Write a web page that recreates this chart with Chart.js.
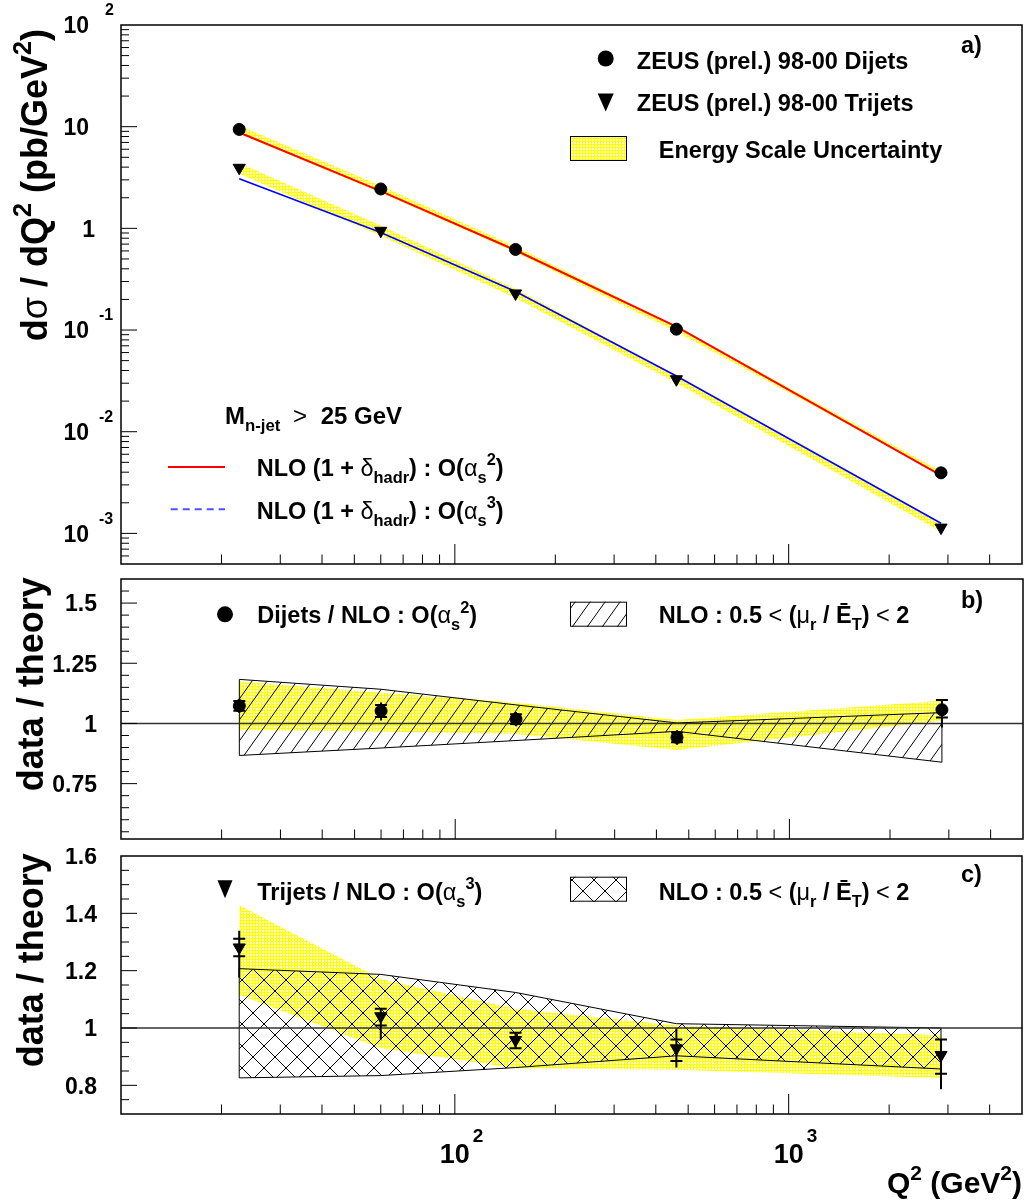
<!DOCTYPE html>
<html>
<head>
<meta charset="utf-8">
<script src="https://cdn.jsdelivr.net/npm/chart.js"></script>
<style>
  html, body { margin: 0; padding: 0; background: #fff; }
  #wrap { position: relative; width: 1030px; height: 1204px; }
  canvas { position: absolute; left: 0; }
</style>
</head>
<body>
<div id="wrap">
  <canvas id="panelA" width="1030" height="572" style="top:0px"></canvas>
  <canvas id="panelB" width="1030" height="276" style="top:572px"></canvas>
  <canvas id="panelC" width="1030" height="356" style="top:848px"></canvas>
</div>
<script>
// Q^2 bin centres (GeV^2)
const q2 = [22.6, 60, 152, 461, 2860];

// a) d(sigma)/dQ^2 in pb/GeV^2
const dijetXsec   = [9.4, 2.44, 0.62, 0.102, 0.00394];
const trijetXsec  = [3.94, 0.946, 0.229, 0.0328, 0.00114];
const nloDijet    = [8.76, 2.32, 0.609, 0.108, 0.00373];
const nloTrijet   = [3.08, 0.909, 0.239, 0.0353, 0.00126];
const dijetEsLow   = [8.52, 2.24, 0.582, 0.0961, 0.00377];
const dijetEsHigh  = [10.28, 2.62, 0.662, 0.1095, 0.00408];
const trijetEsLow  = [3.44, 0.845, 0.206, 0.0301, 0.00104];
const trijetEsHigh = [4.40, 1.064, 0.255, 0.0356, 0.00123];

// b) dijets / NLO O(as^2)
const dijetRatio      = [1.073, 1.052, 1.018, 0.942, 1.057];
const dijetStatUp     = [0.02, 0.025, 0.02, 0.02, 0.04];
const dijetStatDn     = [0.02, 0.025, 0.02, 0.02, 0.032];
const dijetTotUp      = [0.03, 0.035, 0.03, 0.03, 0.04];
const dijetTotDn      = [0.03, 0.04, 0.03, 0.03, 0.074];
const dijetEsRatioLow  = [0.973, 0.967, 0.956, 0.89, 1.011];
const dijetEsRatioHigh = [1.174, 1.128, 1.087, 1.014, 1.094];
const dijetScaleLow    = [0.867, 0.898, 0.929, 0.967, 0.839];
const dijetScaleHigh   = [1.183, 1.142, 1.077, 1.002, 1.045];

// c) trijets / NLO O(as^3)
const trijetRatio      = [1.281, 1.041, 0.958, 0.929, 0.906];
const trijetStatUp     = [0.03, 0.026, 0.025, 0.031, 0.054];
const trijetStatDn     = [0.031, 0.032, 0.029, 0.044, 0.066];
const trijetTotUp      = [0.058, 0.026, 0.025, 0.069, 0.054];
const trijetTotDn      = [0.105, 0.081, 0.03, 0.067, 0.12];
const trijetEsRatioLow  = [1.116, 0.929, 0.86, 0.854, 0.826];
const trijetEsRatioHigh = [1.428, 1.171, 1.067, 1.009, 0.975];
const trijetScaleLow    = [0.826, 0.834, 0.862, 0.903, 0.857];
const trijetScaleHigh   = [1.207, 1.187, 1.124, 1.015, 1.0];

// axis ticks and labels
const xMajor = [100, 1000];
const xMinor = [20, 30, 40, 50, 60, 70, 80, 90, 200, 300, 400, 500, 600, 700, 800, 900, 2000, 3000, 4000];
const xLabelVals = [100, 1000];
const xLabelText = [['10', '2'], ['10', '3']];

const yMajorA = [0.001, 0.01, 0.1, 1, 10];
const yMinorA = [0.0006, 0.0007, 0.0008, 0.0009,
  0.002, 0.003, 0.004, 0.005, 0.006, 0.007, 0.008, 0.009,
  0.02, 0.03, 0.04, 0.05, 0.06, 0.07, 0.08, 0.09,
  0.2, 0.3, 0.4, 0.5, 0.6, 0.7, 0.8, 0.9,
  2, 3, 4, 5, 6, 7, 8, 9,
  20, 30, 40, 50, 60, 70, 80, 90];
const yLabelValsA = [100, 10, 1, 0.1, 0.01, 0.001];
const yLabelTextA = [['10', '2'], ['10', ''], ['1', ''], ['10', '-1'], ['10', '-2'], ['10', '-3']];

const yMajorB = [0.75, 1, 1.25, 1.5];
const yMinorB = [0.55, 0.6, 0.65, 0.7, 0.8, 0.85, 0.9, 0.95, 1.05, 1.1, 1.15, 1.2, 1.3, 1.35, 1.4, 1.45, 1.55];
const yLabelValsB = [0.75, 1, 1.25, 1.5];
const yLabelTextB = [['0.75', ''], ['1', ''], ['1.25', ''], ['1.5', '']];

const yMajorC = [0.8, 1, 1.2, 1.4];
const yMinorC = [0.75, 0.85, 0.9, 0.95, 1.05, 1.1, 1.15, 1.25, 1.3, 1.35, 1.45, 1.5, 1.55];
const yLabelValsC = [0.8, 1, 1.2, 1.4, 1.6];
const yLabelTextC = [['0.8', ''], ['1', ''], ['1.2', ''], ['1.4', ''], ['1.6', '']];

const FONT = '"Liberation Sans", Arial, Helvetica, sans-serif';
const TXT = 23.5;

// ---- fill patterns ----
function meshPattern() {
  // yellow grid lines over pale cells
  const c = document.createElement('canvas');
  c.width = 3; c.height = 3;
  const g = c.getContext('2d');
  g.fillStyle = '#ffffc4'; g.fillRect(0, 0, 3, 3);
  g.fillStyle = '#ffff00'; g.fillRect(0, 0, 3, 1); g.fillRect(0, 0, 1, 3);
  return g.createPattern(c, 'repeat');
}
function hatchPattern() {
  const c = document.createElement('canvas');
  c.width = 15; c.height = 21;
  const g = c.getContext('2d');
  g.strokeStyle = '#000'; g.lineWidth = 1;
  [-15, 0, 15].forEach(o => { g.beginPath(); g.moveTo(o, 21); g.lineTo(o + 15, 0); g.stroke(); });
  return g.createPattern(c, 'repeat');
}
function crossPattern() {
  const c = document.createElement('canvas');
  c.width = 22; c.height = 22;
  const g = c.getContext('2d');
  g.strokeStyle = '#000'; g.lineWidth = 1;
  [-22, 0, 22].forEach(o => {
    g.beginPath(); g.moveTo(o, 22); g.lineTo(o + 22, 0); g.stroke();
    g.beginPath(); g.moveTo(o, 0); g.lineTo(o + 22, 22); g.stroke();
  });
  return g.createPattern(c, 'repeat');
}
const mesh = meshPattern();
const hatch = hatchPattern();
const cross = crossPattern();

// ---- text helpers (bold Helvetica-like, greek in regular weight) ----
function segFont(ctx, s, size) {
  const sz = (s.sub || s.sup) ? size * 0.7 : size;
  ctx.font = (s.g ? '' : 'bold ') + sz.toFixed(1) + 'px ' + FONT;
}
function richWidth(ctx, segs, size) {
  let w = 0;
  segs.forEach(s => { segFont(ctx, s, size); w += ctx.measureText(s.t).width; });
  return w;
}
function drawRich(ctx, segs, x, y, size) {
  ctx.textAlign = 'left';
  ctx.textBaseline = 'alphabetic';
  segs.forEach(s => {
    segFont(ctx, s, size);
    const dy = s.sub ? size * 0.3 : (s.sup ? -size * 0.45 : 0);
    ctx.fillText(s.t, x, y + dy);
    x += ctx.measureText(s.t).width;
  });
  return x;
}
function drawRichUp(ctx, segs, x, yTop, size) {
  const w = richWidth(ctx, segs, size);
  ctx.save();
  ctx.translate(x, yTop);
  ctx.rotate(-Math.PI / 2);
  drawRich(ctx, segs, -w, 0, size);
  ctx.restore();
}
function dot(ctx, x, y, r) {
  ctx.beginPath(); ctx.arc(x, y, r, 0, 2 * Math.PI); ctx.fill();
}
function downTri(ctx, x, y, hw, h) {
  ctx.beginPath();
  ctx.moveTo(x - hw, y - h / 2); ctx.lineTo(x + hw, y - h / 2); ctx.lineTo(x, y + h / 2);
  ctx.closePath(); ctx.fill();
}

const nloLabel = p => [{ t: 'NLO (1 + ' }, { t: 'δ', g: 1 }, { t: 'hadr', sub: 1 }, { t: ') : O(' },
  { t: 'α', g: 1 }, { t: 's', sub: 1 }, { t: p, sup: 1 }, { t: ')' }];
const scaleLabel = [{ t: 'NLO : 0.5 ' }, { t: '<', g: 1 }, { t: ' (' }, { t: 'μ', g: 1 }, { t: 'r', sub: 1 },
  { t: ' / Ē' }, { t: 'T', sub: 1 }, { t: ') ' }, { t: '<', g: 1 }, { t: ' 2' }];
const ratioTitle = [{ t: 'data / theory' }];

// ---- frame, inward ticks, labels, error bars, band ends ----
function rootPad(cfg) {
  return {
    id: 'rootPad',
    afterDatasetDraw(chart, args) {
      const ds = chart.data.datasets[args.index];
      if (!ds.edgeLow) return;
      const { ctx } = chart;
      const xs = chart.scales.x, ys = chart.scales.y;
      ctx.save();
      ctx.strokeStyle = '#000'; ctx.lineWidth = 1;
      [0, ds.data.length - 1].forEach(i => {
        const px = xs.getPixelForValue(ds.data[i].x);
        ctx.beginPath();
        ctx.moveTo(px, ys.getPixelForValue(ds.data[i].y));
        ctx.lineTo(px, ys.getPixelForValue(ds.edgeLow[i]));
        ctx.stroke();
      });
      ctx.restore();
    },
    afterDatasetsDraw(chart) {
      const e = cfg.errors;
      if (!e) return;
      const { ctx } = chart;
      const xs = chart.scales.x, ys = chart.scales.y;
      ctx.save();
      ctx.strokeStyle = '#000'; ctx.lineWidth = 2;
      q2.forEach((q, i) => {
        const px = xs.getPixelForValue(q);
        const v = e.val[i];
        ctx.beginPath();
        ctx.moveTo(px, ys.getPixelForValue(v + e.totUp[i]));
        ctx.lineTo(px, ys.getPixelForValue(v - e.totDn[i]));
        [v + e.statUp[i], v - e.statDn[i]].forEach(t => {
          const py = ys.getPixelForValue(t);
          ctx.moveTo(px - 6, py); ctx.lineTo(px + 6, py);
        });
        ctx.stroke();
      });
      ctx.restore();
    },
    afterDraw(chart) {
      const { ctx, chartArea: a } = chart;
      const xs = chart.scales.x, ys = chart.scales.y;
      ctx.save();
      ctx.strokeStyle = '#000'; ctx.fillStyle = '#000'; ctx.lineWidth = 1;
      const seg = (x1, y1, x2, y2) => { ctx.beginPath(); ctx.moveTo(x1, y1); ctx.lineTo(x2, y2); ctx.stroke(); };
      cfg.yMajor.forEach(v => { const p = ys.getPixelForValue(v); seg(a.left, p, a.left + 16, p); });
      cfg.yMinor.forEach(v => { const p = ys.getPixelForValue(v); seg(a.left, p, a.left + 8, p); });
      xMajor.forEach(v => { const p = xs.getPixelForValue(v); seg(p, a.bottom, p, a.bottom - 20); });
      xMinor.forEach(v => { const p = xs.getPixelForValue(v); seg(p, a.bottom, p, a.bottom - 9.5); });
      ctx.lineWidth = 1.5;
      ctx.strokeRect(a.left, a.top, a.right - a.left, a.bottom - a.top);

      // y tick labels, mantissa centred on the tick, exponent raised
      cfg.yLabelVals.forEach((v, i) => {
        const [m, ex] = cfg.yLabelText[i];
        const py = ys.getPixelForValue(v);
        const base = py + 0.36 * 23;
        const right = cfg.labelRight + (m === '1' && cfg.loneShift ? cfg.loneShift : 0);
        ctx.font = 'bold 23px ' + FONT;
        ctx.textAlign = 'right';
        ctx.textBaseline = 'alphabetic';
        ctx.fillText(m, right, base);
        if (ex) {
          ctx.font = 'bold 16px ' + FONT;
          ctx.textAlign = 'left';
          ctx.fillText(ex, right + (ex[0] === '-' ? 10 : 16), base - 18);
        }
      });

      if (cfg.xLabels) {
        xLabelVals.forEach((v, i) => {
          const [m, ex] = xLabelText[i];
          const px = xs.getPixelForValue(v);
          ctx.font = 'bold 27px ' + FONT;
          ctx.textAlign = 'center';
          ctx.textBaseline = 'alphabetic';
          ctx.fillText(m, px, a.bottom + 48.5);
          const w = ctx.measureText(m).width;
          ctx.font = 'bold 19px ' + FONT;
          ctx.textAlign = 'left';
          ctx.fillText(ex, px + w / 2 + 3, a.bottom + 27.5);
        });
        const title = [{ t: 'Q' }, { t: '2', sup: 1 }, { t: ' (GeV' }, { t: '2', sup: 1 }, { t: ')' }];
        const w = richWidth(ctx, title, 30);
        drawRich(ctx, title, a.right - w, a.bottom + 79, 30);
      }

      ctx.translate(0, -cfg.top);
      cfg.decorate(ctx);
      ctx.restore();
    }
  };
}

// ---- dataset helpers ----
const pts = ys => q2.map((x, i) => ({ x, y: ys[i] }));
const clear = 'rgba(0,0,0,0)';
function bandPair(hi, lo, bg, order, outlined) {
  const edge = outlined ? '#000' : clear;
  return [
    { data: pts(hi), fill: '+1', backgroundColor: bg, borderColor: edge, borderWidth: 1,
      pointRadius: 0, order, edgeLow: outlined ? lo : null },
    { data: pts(lo), fill: false, borderColor: edge, borderWidth: 1, pointRadius: 0, order }
  ];
}
function markers(ys, style, r) {
  return { data: pts(ys), showLine: false, pointStyle: style, pointRadius: r,
    pointRotation: style === 'triangle' ? 180 : 0,
    pointBackgroundColor: '#000', pointBorderColor: '#000', pointBorderWidth: 1, order: 0 };
}
const unity = { data: [{ x: 10, y: 1 }, { x: 5000, y: 1 }], borderColor: '#333', borderWidth: 1.5,
  pointRadius: 0, fill: false, order: 2 };

function padOptions(padding, yType, yMin, yMax) {
  return {
    responsive: false, animation: false, events: [],
    layout: { padding },
    elements: { line: { tension: 0 } },
    scales: {
      x: { type: 'logarithmic', min: 10, max: 5000, display: false },
      y: { type: yType, min: yMin, max: yMax, display: false }
    },
    plugins: { legend: { display: false }, tooltip: { enabled: false } }
  };
}

// ---- a) cross sections ----
new Chart(document.getElementById('panelA'), {
  type: 'line',
  data: {
    datasets: [
      ...bandPair(dijetEsHigh, dijetEsLow, mesh, 5, false),
      ...bandPair(trijetEsHigh, trijetEsLow, mesh, 5, false),
      { data: pts(nloDijet), borderColor: '#ff0000', borderWidth: 2, pointRadius: 0, fill: false, order: 1 },
      { data: pts(nloTrijet), borderColor: '#0000ff', borderWidth: 1.6, pointRadius: 0, fill: false, order: 1 },
      markers(dijetXsec, 'circle', 6),
      markers(trijetXsec, 'triangle', 7)
    ]
  },
  options: padOptions({ left: 121, right: 2, top: 25, bottom: 7 }, 'logarithmic', 5e-4, 100),
  plugins: [rootPad({
    top: 0, yMajor: yMajorA, yMinor: yMinorA,
    yLabelVals: yLabelValsA, yLabelText: yLabelTextA, labelRight: 89, loneShift: 6,
    decorate(ctx) {
      ctx.fillStyle = '#000';
      dot(ctx, 605.7, 58.5, 8);
      drawRich(ctx, [{ t: 'ZEUS (prel.) 98-00 Dijets' }], 636.8, 69, TXT);
      downTri(ctx, 605.7, 102.5, 8, 18);
      drawRich(ctx, [{ t: 'ZEUS (prel.) 98-00 Trijets' }], 636.8, 111, TXT);
      ctx.fillStyle = mesh;
      ctx.fillRect(570, 136, 57, 25);
      ctx.strokeStyle = '#000'; ctx.lineWidth = 1;
      ctx.strokeRect(570.5, 136.5, 56, 24);
      ctx.fillStyle = '#000';
      drawRich(ctx, [{ t: 'Energy Scale Uncertainty' }], 658.8, 157.5, TXT);
      drawRich(ctx, [{ t: 'a)' }], 961, 53, TXT);

      drawRich(ctx, [{ t: 'M' }, { t: 'n-jet', sub: 1 }], 225, 424, 24);
      drawRich(ctx, [{ t: '>', g: 1 }], 293, 424, 24);
      drawRich(ctx, [{ t: '25 GeV' }], 320.7, 424, 24);

      ctx.strokeStyle = '#ff0000'; ctx.lineWidth = 2;
      ctx.beginPath(); ctx.moveTo(168, 467); ctx.lineTo(225, 467); ctx.stroke();
      drawRich(ctx, nloLabel('2'), 256.7, 475.7, TXT);
      ctx.strokeStyle = '#5050ff'; ctx.setLineDash([7, 5]);
      ctx.beginPath(); ctx.moveTo(170.7, 509.3); ctx.lineTo(225, 509.3); ctx.stroke();
      ctx.setLineDash([]);
      drawRich(ctx, nloLabel('3'), 256.7, 519, TXT);

      drawRichUp(ctx, [{ t: 'd' }, { t: 'σ', g: 1 }, { t: ' / dQ' }, { t: '2', sup: 1 },
        { t: ' (pb/GeV' }, { t: '2', sup: 1 }, { t: ')' }], 47, 29, 36);
    }
  })]
});

// ---- b) dijets / theory ----
new Chart(document.getElementById('panelB'), {
  type: 'line',
  data: {
    datasets: [
      ...bandPair(dijetEsRatioHigh, dijetEsRatioLow, mesh, 5, false),
      ...bandPair(dijetScaleHigh, dijetScaleLow, hatch, 4, true),
      unity,
      markers(dijetRatio, 'circle', 6)
    ]
  },
  options: padOptions({ left: 121, right: 2, top: 5, bottom: 9 }, 'linear', 0.52, 1.6),
  plugins: [rootPad({
    top: 572, yMajor: yMajorB, yMinor: yMinorB,
    yLabelVals: yLabelValsB, yLabelText: yLabelTextB, labelRight: 97,
    errors: { val: dijetRatio, statUp: dijetStatUp, statDn: dijetStatDn, totUp: dijetTotUp, totDn: dijetTotDn },
    decorate(ctx) {
      ctx.fillStyle = '#000';
      dot(ctx, 225, 614.3, 8);
      drawRich(ctx, [{ t: 'Dijets / NLO : O(' }, { t: 'α', g: 1 }, { t: 's', sub: 1 }, { t: '2', sup: 1 }, { t: ')' }],
        257.3, 623.3, TXT);
      ctx.fillStyle = hatch;
      ctx.fillRect(570, 601.7, 57, 25);
      ctx.strokeStyle = '#000'; ctx.lineWidth = 1;
      ctx.strokeRect(570.5, 602.2, 56, 24);
      ctx.fillStyle = '#000';
      drawRich(ctx, scaleLabel, 658.8, 623.3, TXT);
      drawRich(ctx, [{ t: 'b)' }], 961, 608.3, TXT);
      drawRichUp(ctx, ratioTitle, 43.3, 577.3, 36);
    }
  })]
});

// ---- c) trijets / theory ----
new Chart(document.getElementById('panelC'), {
  type: 'line',
  data: {
    datasets: [
      ...bandPair(trijetEsRatioHigh, trijetEsRatioLow, mesh, 5, false),
      ...bandPair(trijetScaleHigh, trijetScaleLow, cross, 4, true),
      unity,
      markers(trijetRatio, 'triangle', 7)
    ]
  },
  options: padOptions({ left: 121, right: 2, top: 5, bottom: 90 }, 'linear', 0.7, 1.6),
  plugins: [rootPad({
    top: 848, yMajor: yMajorC, yMinor: yMinorC,
    yLabelVals: yLabelValsC, yLabelText: yLabelTextC, labelRight: 97, xLabels: true,
    errors: { val: trijetRatio, statUp: trijetStatUp, statDn: trijetStatDn, totUp: trijetTotUp, totDn: trijetTotDn },
    decorate(ctx) {
      ctx.fillStyle = '#000';
      downTri(ctx, 225, 889.3, 7.5, 18);
      drawRich(ctx, [{ t: 'Trijets / NLO : O(' }, { t: 'α', g: 1 }, { t: 's', sub: 1 }, { t: '3', sup: 1 }, { t: ')' }],
        257.3, 900, TXT);
      ctx.fillStyle = cross;
      ctx.fillRect(570, 876.7, 57, 25);
      ctx.strokeStyle = '#000'; ctx.lineWidth = 1;
      ctx.strokeRect(570.5, 877.2, 56, 24);
      ctx.fillStyle = '#000';
      drawRich(ctx, scaleLabel, 658.8, 900, TXT);
      drawRich(ctx, [{ t: 'c)' }], 961, 881.7, TXT);
      drawRichUp(ctx, ratioTitle, 43.3, 853.3, 36);
    }
  })]
});
</script>
</body>
</html>
